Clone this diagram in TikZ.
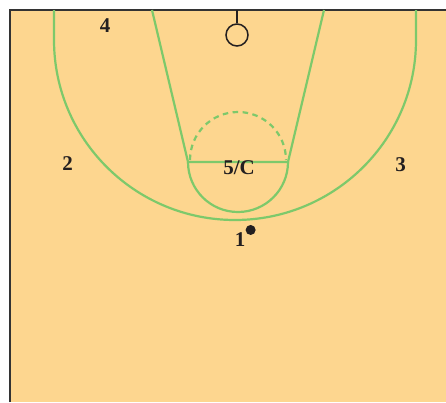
\documentclass[tikz,border=0pt]{standalone}
\usepackage{fontspec}
\setmainfont{Liberation Serif}
\usetikzlibrary{positioning}
\definecolor{cfloor}{HTML}{FDD68F}
\definecolor{cline}{HTML}{7DC96B}
\definecolor{cink}{HTML}{231F20}
\definecolor{cedge}{HTML}{333333}

\begin{document}
\begin{tikzpicture}[x=1pt, y=-1pt,
    court/.style={cline, line width=2.2pt},
    plr/.style={inner sep=0pt, anchor=base, text=cink, font=\fontsize{21}{25}\selectfont\bfseries}]
  \useasboundingbox (0,0) rectangle (446,402);
  % floor and the two outer lines
  \fill[cfloor] (10,10) rectangle (446,402);
  \draw[cedge, line width=2.2pt] (10,402) -- (10,10) -- (446,10);

  % three point line
  \draw[court] (54,10) -- (54,40) arc[start angle=180, end angle=360, x radius=181, y radius=-180] -- (416,10);
  % lane and free throw circle
  \draw[court] (152,10) -- (188,162) -- (288,162) -- (324,10);
  \draw[court] (188,162) arc[start angle=180, end angle=360, x radius=50, y radius=-50];
  \draw[court, dash pattern=on 5.5pt off 4.5pt] (190,160) arc[start angle=180, end angle=0, x radius=48, y radius=-48];

  % basket
  \coordinate (stem) at (237,10);
  \node[draw=cink, line width=1.5pt, circle, minimum size=22pt, inner sep=0pt] (hoop) at (237,35) {};
  \draw[cink, line width=1.5pt] (stem) -- (hoop.north);

  % players
  \node[plr] (p4) at (105,32.7) {4};
  \node[plr] (p2) at (67.5,170.7) {2};
  \node[plr] (p3) at (400.5,171.7) {3};
  \node[plr] (p5) at (239,174) {5/C};
  \node[plr] (p1) at (240,246.7) {1};
  \node[circle, fill=cink, minimum size=10pt, inner sep=0pt, above right=-1pt and 1.5pt of p1] (ball) {};
\end{tikzpicture}
\end{document}
